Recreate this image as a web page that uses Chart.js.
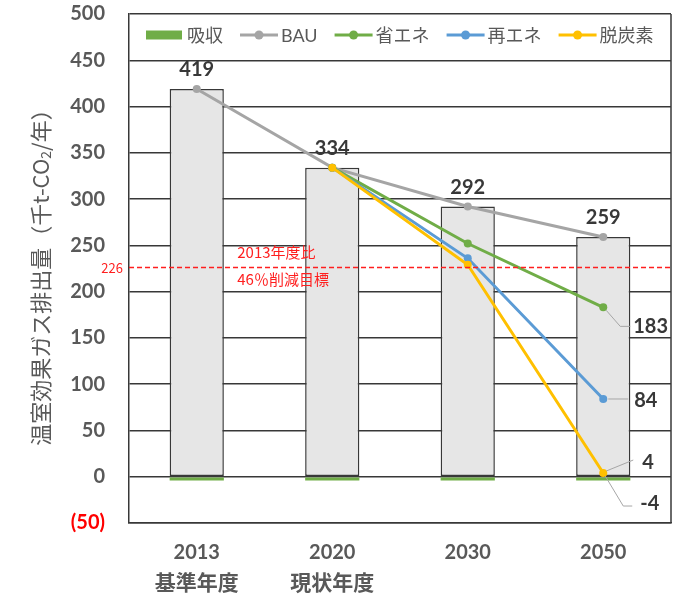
<!DOCTYPE html>
<html>
<head>
<meta charset="utf-8">
<script src="https://cdn.jsdelivr.net/npm/chart.js@4/dist/chart.umd.min.js"></script>
<style>
  html, body { margin: 0; padding: 0; background: #fff; }
  #wrap { width: 675px; height: 597px; }
</style>
</head>
<body>
<div id="wrap"><canvas id="c" width="675" height="597"></canvas></div>
<script>
// Categories (year + note line)
const years = ['2013', '2020', '2030', '2050'];
const yearNotes = ['基準年度', '現状年度', '', ''];

// Series values (千t-CO2/年)
const bauValues = [419, 334, 292, 259];
const absorption = [-4, -4, -4, -4];
const energySaving = [null, 334, 252, 183];
const renewable = [null, 334, 236, 84];
const decarbon = [null, 334, 229, 4];

// Reduction target line
const targetValue = 226;
const targetNotes = ['2013年度比', '46％削減目標'];

// Y axis range
const yMin = -50;
const yMax = 500;
const yStep = 50;

const TEXT = '#595959';
const DARK = '#383838';
const RED = '#ff1f1f';
const LATIN = 'Lato, "Noto Sans CJK JP", sans-serif';
const CJK = '"Noto Sans CJK JP", sans-serif';

// Legend drawn inside the top band of the plot area
const insideLegend = {
  id: 'insideLegend',
  afterDraw(chart) {
    const ctx = chart.ctx;
    const area = chart.chartArea;
    const items = chart.data.datasets
      .filter(d => d.legendRank !== undefined)
      .sort((a, b) => a.legendRank - b.legendRank);
    let x = area.left + 17;
    const y = area.top + 21;
    ctx.save();
    ctx.font = '18px ' + LATIN;
    ctx.textBaseline = 'middle';
    ctx.textAlign = 'left';
    items.forEach(d => {
      if (d.type === 'bar') {
        ctx.fillStyle = d.backgroundColor;
        ctx.fillRect(x, y - 4.5, 36, 9);
      } else {
        ctx.strokeStyle = d.borderColor;
        ctx.lineWidth = 3;
        ctx.beginPath();
        ctx.moveTo(x, y);
        ctx.lineTo(x + 38, y);
        ctx.stroke();
        ctx.fillStyle = d.borderColor;
        ctx.beginPath();
        ctx.arc(x + 19, y, 4.5, 0, Math.PI * 2);
        ctx.fill();
      }
      ctx.fillStyle = TEXT;
      ctx.fillText(d.label, x + 41, y + 1);
      x += 41 + ctx.measureText(d.label).width + 17;
    });
    ctx.restore();
  }
};

// Frame, target line, value labels, category labels and axis title
const decorations = {
  id: 'decorations',
  afterDatasetsDraw(chart) {
    const ctx = chart.ctx;
    const area = chart.chartArea;
    const xs = chart.scales.x;
    const ys = chart.scales.y;
    ctx.save();

    // right edge of the frame
    ctx.strokeStyle = DARK;
    ctx.lineWidth = 1.5;
    ctx.beginPath();
    ctx.moveTo(area.right, area.top);
    ctx.lineTo(area.right, area.bottom);
    ctx.stroke();

    // target line
    const ty = ys.getPixelForValue(targetValue);
    ctx.strokeStyle = RED;
    ctx.lineWidth = 1.5;
    ctx.setLineDash([5, 3]);
    ctx.beginPath();
    ctx.moveTo(area.left, ty);
    ctx.lineTo(area.right, ty);
    ctx.stroke();
    ctx.setLineDash([]);

    ctx.fillStyle = RED;
    ctx.font = '13px ' + CJK;
    ctx.textAlign = 'right';
    ctx.textBaseline = 'middle';
    ctx.fillText(String(targetValue), area.left - 6, ty);
    ctx.font = '15px ' + CJK;
    ctx.textAlign = 'left';
    const nx = xs.getPixelForValue(1) - 95;
    ctx.fillText(targetNotes[0], nx, ty - 15);
    ctx.fillText(targetNotes[1], nx, ty + 12);

    // totals above the bars
    ctx.fillStyle = DARK;
    ctx.font = 'bold 20px ' + LATIN;
    ctx.textAlign = 'center';
    bauValues.forEach((v, i) => {
      ctx.fillText(String(v), xs.getPixelForValue(i), ys.getPixelForValue(v) - 19);
    });

    // 2050 labels with leader lines
    const last = years.length - 1;
    const px = xs.getPixelForValue(last);
    const leaders = [
      { v: energySaving[last], pts: [[3, 3], [17, 19], [27, 19]], tx: 30, ty: 19 },
      { v: renewable[last], pts: [[5, 0], [25, 0]], tx: 31, ty: 2 },
      { v: decarbon[last], pts: [[3, -2], [30, -13]], tx: 39, ty: -10 },
      { v: absorption[last], ref: decarbon[last], pts: [[2, 3], [20, 33], [29, 33]], tx: 37, ty: 31 }
    ];
    leaders.forEach(l => {
      const py = ys.getPixelForValue(l.ref !== undefined ? l.ref : l.v);
      ctx.strokeStyle = '#a6a6a6';
      ctx.lineWidth = 1;
      ctx.beginPath();
      l.pts.forEach((p, k) => {
        if (k === 0) ctx.moveTo(px + p[0], py + p[1]);
        else ctx.lineTo(px + p[0], py + p[1]);
      });
      ctx.stroke();
      ctx.fillStyle = DARK;
      ctx.font = 'bold 20px ' + LATIN;
      ctx.textAlign = 'left';
      ctx.textBaseline = 'middle';
      ctx.fillText(String(l.v), px + l.tx, py + l.ty);
    });

    ctx.restore();
  },
  afterDraw(chart) {
    const ctx = chart.ctx;
    const area = chart.chartArea;
    const xs = chart.scales.x;
    ctx.save();

    // category labels
    ctx.fillStyle = TEXT;
    ctx.textAlign = 'center';
    ctx.textBaseline = 'middle';
    years.forEach((y, i) => {
      const x = xs.getPixelForValue(i);
      ctx.font = 'bold 20px ' + LATIN;
      ctx.fillText(y, x, area.bottom + 30);
      if (yearNotes[i]) {
        ctx.font = 'bold 21px ' + CJK;
        ctx.fillText(yearNotes[i], x, area.bottom + 59);
      }
    });

    // y axis title with subscript
    const parts = [
      { t: '温室効果ガス排出量（千t-CO', f: '22px ' + CJK, dy: 0 },
      { t: '2', f: '14px ' + CJK, dy: 5 },
      { t: '/年）', f: '22px ' + CJK, dy: 0 }
    ];
    let total = 0;
    parts.forEach(p => { ctx.font = p.f; p.w = ctx.measureText(p.t).width; total += p.w; });
    ctx.translate(41, 272);
    ctx.rotate(-Math.PI / 2);
    ctx.textAlign = 'left';
    let x = -total / 2;
    parts.forEach(p => {
      ctx.font = p.f;
      ctx.fillText(p.t, x, p.dy);
      x += p.w;
    });
    ctx.restore();
  }
};

function lineSet(label, data, color, order, rank) {
  return {
    type: 'line', label, data,
    borderColor: color, backgroundColor: color,
    borderWidth: 3, tension: 0,
    pointRadius: 4, pointBorderWidth: 0, pointBackgroundColor: color,
    order, legendRank: rank
  };
}

new Chart(document.getElementById('c'), {
  type: 'bar',
  data: {
    labels: years,
    datasets: [
      lineSet('脱炭素', decarbon, '#ffc000', 1, 4),
      lineSet('再エネ', renewable, '#5b9bd5', 2, 3),
      lineSet('省エネ', energySaving, '#70ad47', 3, 2),
      lineSet('BAU', bauValues, '#a5a5a5', 4, 1),
      {
        type: 'bar', label: '吸収', data: absorption,
        backgroundColor: '#70ad47', borderWidth: 0,
        grouped: false, barPercentage: 0.4, categoryPercentage: 1,
        order: 9, legendRank: 0
      },
      {
        type: 'bar', label: '排出量', data: bauValues,
        backgroundColor: '#e6e6e6', borderColor: DARK, borderWidth: 1.5,
        borderSkipped: false,
        grouped: false, barPercentage: 0.4, categoryPercentage: 1,
        order: 10
      }
    ]
  },
  options: {
    responsive: false,
    animation: false,
    devicePixelRatio: 1,
    layout: { padding: { top: 14, right: 4, left: 0, bottom: 0 }, autoPadding: false },
    plugins: { legend: { display: false }, tooltip: { enabled: false } },
    scales: {
      x: {
        ticks: { display: false },
        grid: { display: false },
        border: { display: true, color: DARK, width: 1.5 },
        afterFit(s) { s.height = 74; s.paddingLeft = 0; s.paddingRight = 0; }
      },
      y: {
        min: yMin, max: yMax,
        ticks: {
          stepSize: yStep,
          padding: 24,
          font: { family: LATIN, size: 20, weight: 'bold' },
          color: c => (c.tick && c.tick.value < 0 ? '#ff0000' : TEXT),
          callback: v => (v < 0 ? '(' + (-v) + ')' : String(v))
        },
        grid: { color: DARK, lineWidth: 1.5, drawTicks: false },
        border: { display: true, color: DARK, width: 1.5 },
        afterFit(s) { s.width = 129; s.paddingTop = 0; s.paddingBottom = 0; }
      }
    }
  },
  plugins: [insideLegend, decorations]
});
</script>
</body>
</html>
